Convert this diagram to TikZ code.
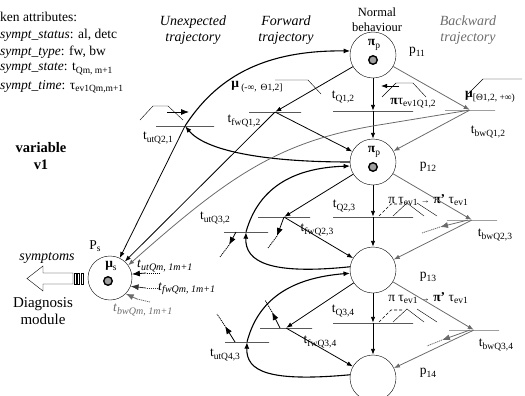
\documentclass[tikz,border=0pt]{standalone}
\usepackage{fontspec}
\setmainfont{Liberation Serif}
\usetikzlibrary{arrows.meta}
\definecolor{bwgray}{gray}{0.42}
\newcommand{\sbs}[1]{\raisebox{-0.4ex}{\fontsize{9.5}{10}\selectfont #1}}
\newcommand{\sbi}[1]{\raisebox{-0.4ex}{\fontsize{10}{10}\selectfont\itshape #1}}
\begin{document}
\begin{tikzpicture}[x=1pt,y=-1pt,
	every node/.style={font=\fontsize{13.5}{15}\selectfont, inner sep=0pt},
	place/.style={draw, circle, thin, minimum size=46pt, inner sep=0pt},
	tok/.style={draw, circle, line width=1.4pt, fill=gray!75, minimum size=8.5pt, inner sep=0pt},
	bar/.style={draw, thin, inner sep=0pt, minimum height=0pt, minimum width=#1},
	arc/.style={-{Latex[length=6pt,width=4.5pt]}, line width=0.8pt},
	utarc/.style={-{Latex[length=6.5pt,width=5pt]}, line width=1.1pt},
	bwarc/.style={-{Latex[length=6pt,width=4.5pt]}, line width=0.8pt, bwgray},
	stubhead/.style={-{Latex[length=8pt,width=6pt]}, line width=0.8pt},
	stubtail/.style={line width=0.8pt, dash pattern=on 1.2pt off 0.8pt},
	hat/.style={thin}
	]
	\useasboundingbox (0,0) rectangle (525,396);

	% token attributes and side texts
	\node[anchor=west] (ta) at (0,17) {ken attributes:};
	\node[anchor=west] (ts1) at (0,35) {\textit{sympt\_status}: al, detc};
	\node[anchor=west] (ts2) at (0,52) {\textit{sympt\_type}: fw, bw};
	\node[anchor=west] (ts3) at (0,69) {\textit{sympt\_state}: t\sbs{Qm, m+1}};
	\node[anchor=west] (ts4) at (0,87) {\textit{sympt\_time}: τ\sbs{ev1Qm,m+1}};
	\node[font=\fontsize{14.5}{17}\selectfont\bfseries, align=center] (var) at (41,156) {variable\\v1};

	\begin{scope}[every node/.style={font=\fontsize{14}{15.5}\selectfont\itshape, align=center, inner sep=0pt}]
		\node (hut) at (193,30) {Unexpected\\trajectory};
		\node (hfw) at (286,30) {Forward\\trajectory};
		\node[bwgray] (hbw) at (468,30) {Backward\\trajectory};
	\end{scope}
	\node[font=\fontsize{12.5}{15}\selectfont, align=center] (hnb) at (377,20) {Normal\\behaviour};

	% places
	\begin{scope}[every node/.style={place}]
		\node (p11) at (373,55) {};
		\node (p12) at (373,162) {};
		\node (p13) at (373,270) {};
		\node (p14) at (373,378) {};
		\node[minimum size=44pt] (Ps) at (110,278) {};
	\end{scope}
	\begin{scope}[every node/.style={tok}]
		\node (k11) at (373,60) {};
		\node (k12) at (373,167) {};
		\node (ks) at (108,281) {};
	\end{scope}
	\node (pi11) at (374,45) {\textbf{π}\sbs{p}};
	\node (pi12) at (374,152) {\textbf{π}\sbs{p}};
	\node (mus) at (111,266) {\textbf{μ}\sbs{s}};
	\node (lp11) at (417,52) {p\sbs{11}};
	\node (lp12) at (428,167) {p\sbs{12}};
	\node (lp13) at (428,277) {p\sbs{13}};
	\node (lp14) at (428,373) {p\sbs{14}};
	\node (lps) at (95,246) {P\sbs{s}};

	% transitions
	\begin{scope}[every node/.style={bar=80}]
		\node (tq12) at (373,111) {};
		\node (tq23) at (373,217) {};
		\node (tq34) at (373,323) {};
	\end{scope}
	\begin{scope}[every node/.style={bar=52}]
		\node (tfw12) at (275,112) {};
		\node (tfw23) at (284,217) {};
		\node (tfw34) at (286,328) {};
	\end{scope}
	\begin{scope}[every node/.style={bar=44}]
		\node[minimum width=58pt] (tut21) at (185,126) {};
		\node (tut32) at (246,232) {};
		\node (tut43) at (247,342) {};
	\end{scope}
	\begin{scope}[every node/.style={bar=50, bwgray}]
		\node (tbw12) at (470,110) {};
		\node (tbw23) at (472,220) {};
		\node (tbw34) at (474,330) {};
	\end{scope}

	% transition labels
	\node (lq12) at (343,97) {t\sbs{Q1,2}};
	\node (lq23) at (344,206) {t\sbs{Q2,3}};
	\node (lq34) at (343,311) {t\sbs{Q3,4}};
	\node (lfw12) at (244,121) {t\sbs{fwQ1,2}};
	\node (lfw23) at (317,230) {t\sbs{fwQ2,3}};
	\node (lfw34) at (320,342) {t\sbs{fwQ3,4}};
	\node (lut21) at (158,138) {t\sbs{utQ2,1}};
	\node (lut32) at (215,218) {t\sbs{utQ3,2}};
	\node (lut43) at (225,355) {t\sbs{utQ4,3}};
	\node (lbw12) at (488,132) {t\sbs{bwQ1,2}};
	\node (lbw23) at (495,235) {t\sbs{bwQ2,3}};
	\node (lbw34) at (496,345) {t\sbs{bwQ3,4}};
	\node (lev12) at (413,103) {\textbf{π}τ\sbs{ev1Q1,2}};
	\node (lev23) at (428,200) {π τ\sbs{ev1} {\fontsize{9}{10}\selectfont→} \textbf{π'} τ\sbs{ev1}};
	\node (lev34) at (428,298) {π τ\sbs{ev1} {\fontsize{9}{10}\selectfont→} \textbf{π'} τ\sbs{ev1}};
	\node (lmu1) at (257,87) {\textbf{μ}\,\sbs{(-∞,\, Θ1,2]}};
	\node (lmu2) at (490,97) {\textbf{μ}\sbs{[Θ1,2, +∞)}};

	% normal chain
	\begin{scope}[every edge/.style={draw, arc, line width=0.9pt}]
		\path (p11) edge (tq12);
		\path (tq12) edge (p12);
		\path (p12) edge (tq23);
		\path (tq23) edge (p13);
		\path (p13) edge (tq34);
		\path (tq34) edge (p14);
	\end{scope}

	% forward trajectory
	\begin{scope}[every edge/.style={draw, arc}]
		\path (p11) edge (tfw12);
		\path (tfw12) edge (p12);
		\path (tfw12) edge (Ps.48);
		\path (p12) edge (tfw23);
		\path (tfw23) edge (p13);
		\path (p13) edge (tfw34);
		\path (tfw34) edge (p14);
	\end{scope}

	% unexpected trajectory
	\draw[utarc] (p12.west) .. controls (260,162) and (205,150) .. (tut21);
	\draw[utarc] (tut21) .. controls (215,80) and (260,50) .. (p11.170);
	\draw[arc] (tut21) -- (Ps.64);
	\draw[utarc] (p13.172) .. controls (270,275) and (245,262) .. (tut32);
	\draw[utarc] (tut32) .. controls (258,190) and (290,168) .. (p12.190);
	\draw[utarc] (p14.172) .. controls (270,382) and (246,372) .. (tut43);
	\draw[utarc] (tut43) .. controls (258,300) and (290,278) .. (p13.188);

	% backward trajectory
	\begin{scope}[every edge/.style={draw, bwarc}]
		\path (p11) edge (tbw12);
		\path (tbw12) edge (p12);
		\path (p12) edge (tbw23);
		\path (tbw23) edge (p13);
		\path (p13) edge (tbw34);
		\path (tbw34) edge (p14);
	\end{scope}
	\draw[bwarc] (tbw12) -- (385,124) .. controls (280,140) and (230,175) .. (Ps.35);

	% output stubs towards Ps
	\coordinate (sf23) at (277,236);
	\coordinate (ef23) at (268,248);
	\coordinate (sf34) at (272,312);
	\coordinate (ef34) at (265,300);
	\coordinate (su32) at (229,245);
	\coordinate (eu32) at (220,257);
	\coordinate (su43) at (225,326);
	\coordinate (eu43) at (217,314);
	\coordinate (sb23) at (440,227);
	\coordinate (eb23) at (422,233);
	\coordinate (sb34) at (442,340);
	\coordinate (eb34) at (427,346);
	\draw[stubhead] (tfw23) -- (sf23);
	\draw[stubtail] (sf23) -- (ef23);
	\draw[stubhead] (tfw34.center) ++(-6,0) -- (sf34);
	\draw[stubtail] (sf34) -- (ef34);
	\draw[stubhead] (tut32.center) ++(-10,0) -- (su32);
	\draw[stubtail] (su32) -- (eu32);
	\draw[stubhead] (tut43.center) ++(-12,0) -- (su43);
	\draw[stubtail] (su43) -- (eu43);
	\draw[stubhead, bwgray] (tbw23.center) ++(-4,0) -- (sb23);
	\draw[stubtail, bwgray] (sb23) -- (eb23);
	\draw[stubhead, bwgray] (tbw34.center) ++(-4,0) -- (sb34);
	\draw[stubtail, bwgray] (sb34) -- (eb34);

	% stubs arriving in Ps
	\coordinate (iu) at (160,273);
	\coordinate (ju) at (146,273);
	\coordinate (if) at (160,288);
	\coordinate (jf) at (146,288);
	\coordinate (ib) at (150,302);
	\coordinate (jb) at (137,299);
	\draw[stubtail] (iu) -- (ju);
	\draw[stubhead] (ju) -- (Ps.10);
	\draw[stubtail, black!80] (if) -- (jf);
	\draw[stubhead, black!80] (jf) -- (Ps.-22);
	\draw[stubtail, bwgray] (ib) -- (jb);
	\draw[stubhead, bwgray] (jb) -- (Ps.-45);
	\node[anchor=west] (lsu) at (137,266) {\textit{t}\sbi{utQm, 1m+1}};
	\node[anchor=west] (lsf) at (158,289) {\textit{t}\sbi{fwQm, 1m+1}};
	\node[anchor=west, bwgray] (lsb) at (113,310) {\textit{t}\sbi{bwQm, 1m+1}};

	% small time windows
	\draw[hat] (140,120) -- (153,106) -- (168,106) -- (183,120);
	\draw[stubhead] (167,112) -- (189,112);
	\draw[hat] (382,97) -- (396,83) -- (413,83) -- (426,97);
	\draw[arc] (399,86) -- (381,86);
	\draw[hat] (275,80) -- (308,80) -- (321,94);
	\draw[hat] (468,94) -- (483,79) -- (522,79);
	\foreach \y in {217,323} {
		\draw[hat, densely dashed, semithick] (379,\y-1) -- (391,\y-13) -- (403,\y-13);
		\draw[hat] (393,\y-1) -- (407,\y-14) -- (424,\y-1);
		\draw[hat] (417,\y-14) -- (437,\y-1);
	}

	% diagnosis module
	\draw[thin, fill=white] (73,273) -- (43,273) -- (43,266) -- (27,278.5) -- (43,291) -- (43,284) -- (73,284) -- cycle;
	\foreach \x in {74,77.5,81} \draw[thin] (\x,273) rectangle ++(2,11);
	\node[font=\fontsize{14}{16}\selectfont\itshape] (sym) at (47,258) {symptoms};
	\node[font=\fontsize{15}{17}\selectfont, align=center] (diag) at (43,311) {Diagnosis\\module};
\end{tikzpicture}
\end{document}
